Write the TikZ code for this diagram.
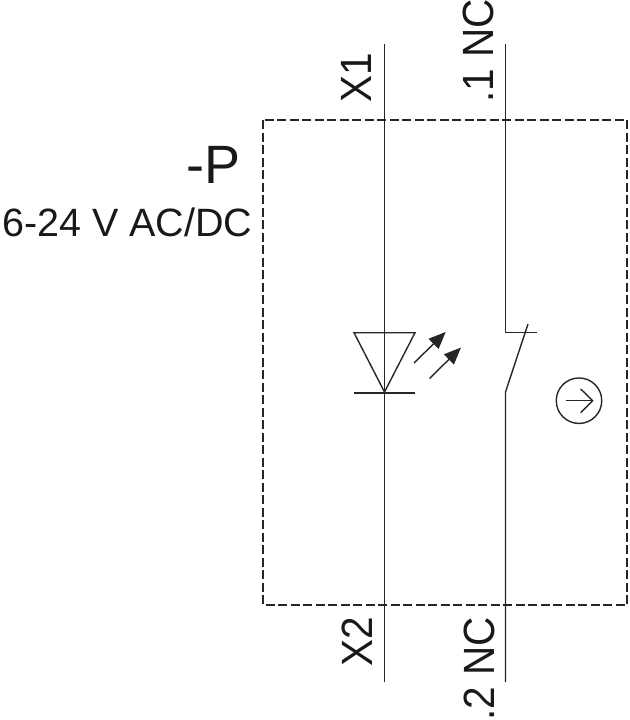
\documentclass[tikz,border=0pt]{standalone}
\usepackage{fontspec}
\setmainfont{Liberation Sans}
\usetikzlibrary{arrows.meta}
\newcommand\tallpin[1]{\scalebox{1}[1.08]{#1}}
\tikzset{
	wire/.style={line width=1.4pt,black!85},
	lightray/.style={line width=1.4pt,black!85,-{Triangle[length=17pt,width=14pt]}},
	pinlabel/.style={rotate=90,font=\fontsize{40.5}{40.5}\selectfont,text=black!90,inner sep=0pt},
	boxlabel/.style={anchor=base east,inner sep=0pt,text=black!90}
}
\begin{document}
\begin{tikzpicture}[x=1pt,y=-1pt]
	\useasboundingbox (0,0) rectangle (629,720);
	\draw[wire,line width=1.2pt,dash pattern=on 9pt off 3.5pt] (263,120) rectangle (627,605);

	\coordinate (x1) at (384.5,44);
	\coordinate (x2) at (384.5,682);
	\coordinate (nc1) at (505.5,44);
	\coordinate (nc2) at (505.5,682);
	\coordinate (ledl) at (354,332.7);
	\coordinate (ledr) at (415,332.7);
	\coordinate (ledtip) at (384.5,392);
	\coordinate (barl) at (354,393);
	\coordinate (barr) at (415,393);
	\coordinate (swtop) at (505.5,332.7);
	\coordinate (swbot) at (505.5,392);
	\coordinate (swend) at (528,324);
	\coordinate (swstop) at (536.7,332.7);

	\draw[wire] (x1) -- (x2);
	\draw[wire] (nc1) -- (swtop) -- (swstop);
	\draw[wire] (swend) -- (swbot) -- (nc2);
	\draw[wire] (ledl) -- (ledr) -- (ledtip) -- cycle;
	\draw[wire] (barl) -- (barr);

	\coordinate (rayastart) at (414,363);
	\coordinate (rayaend) at (445.7,332);
	\coordinate (raybstart) at (429.5,378.5);
	\coordinate (raybend) at (461,347.5);
	\draw[lightray] (rayastart) -- (rayaend);
	\draw[lightray] (raybstart) -- (raybend);

	\node[draw,wire,circle,minimum size=45.5pt,inner sep=0pt] (dir) at (579,400.7) {};
	\coordinate (dirl) at (566,400.7);
	\coordinate (dirr) at (592.7,400.7);
	\coordinate (dirup) at (580.7,389);
	\coordinate (dirdn) at (580.7,412.7);
	\draw[wire] (dirl) -- (dirr);
	\draw[wire] (dirup) -- (dirr) -- (dirdn);

	\node[boxlabel,font=\fontsize{54}{54}\selectfont] (tag) at (241,183) {-P};
	\node[boxlabel,font=\fontsize{39.5}{39.5}\selectfont] (volt) at (252.5,236.5) {6-24 V AC/DC};

	\node[pinlabel,anchor=base west] (lx1) at (371,103) {\tallpin{X1}};
	\node[pinlabel,anchor=base west] (lnc1) at (493,103) {\tallpin{.1 NC}};
	\node[pinlabel,anchor=base east] (lx2) at (372,617) {\tallpin{X2}};
	\node[pinlabel,anchor=base east] (lnc2) at (494,617) {\tallpin{.2 NC}};
\end{tikzpicture}
\end{document}
